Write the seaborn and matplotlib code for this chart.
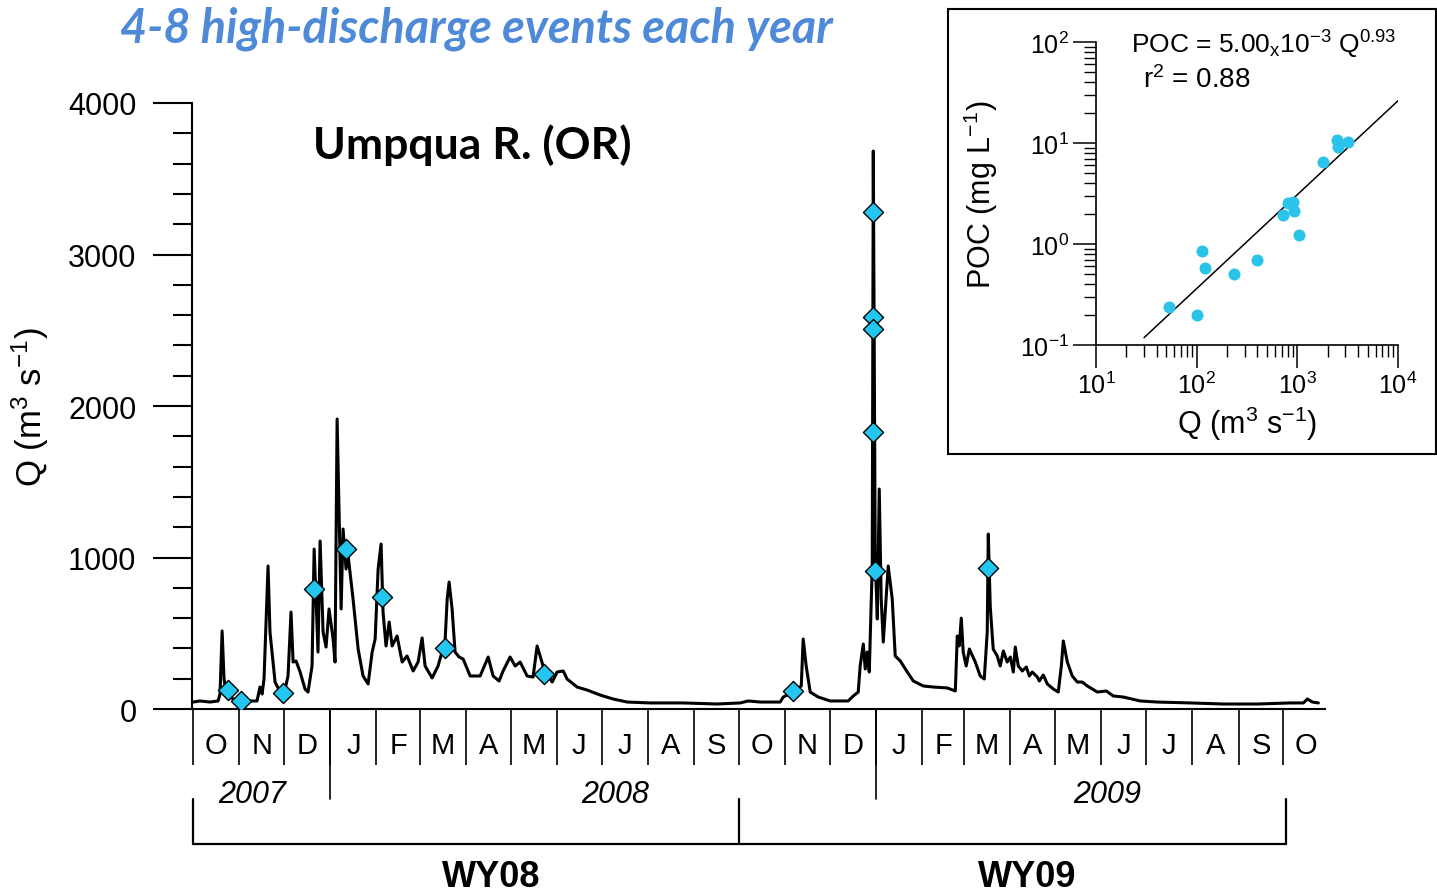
import numpy as np
import pandas as pd
import matplotlib
matplotlib.use("Agg")
import matplotlib.pyplot as plt
import seaborn as sns
from matplotlib.patches import Rectangle
from matplotlib.ticker import MultipleLocator, LogLocator, NullFormatter

# ---------------- data ----------------
start_date = "2007-10-01"   # day 0 of the hydrograph

flow_day = [0, 4.7, 11.4, 16.8, 18.1, 19.5, 20.8, 22.1, 26.8, 31.5,
            38.2, 42.9, 44.9, 46.3, 47.6, 50.3, 51.6, 55.0, 58.4, 61.0,
            63.7, 65.7, 67.1, 69.1, 71.8, 75.1, 77.1, 79.8, 81.2, 83.8,
            85.2, 87.2, 89.2, 91.2, 93.9, 95.2, 96.6, 99.3, 100.6, 102.6,
            104.0, 107.3, 110.7, 114.0, 117.4, 120.1, 122.1, 124.1, 126.1, 127.4,
            129.4, 131.5, 133.5, 136.8, 140.2, 143.5, 147.6, 150.9, 153.6, 155.6,
            160.3, 164.3, 169.0, 170.4, 171.7, 173.7, 175.7, 178.4, 181.1, 185.8,
            192.5, 197.9, 201.2, 205.2, 207.9, 212.6, 216.0, 219.3, 224.0, 228.0,
            230.7, 234.7, 240.8, 244.1, 248.2, 250.8, 257.5, 264.3, 273.0, 281.7,
            291.1, 306.5, 328.6, 351.4, 366.9, 372.2, 380.3, 393.7, 395.7, 402.4,
            407.8, 409.1, 411.1, 413.8, 419.2, 427.2, 439.3, 442.7, 446.0, 447.3,
            449.4, 450.7, 452.0, 453.4, 455.4, 456.1, 457.4, 458.8, 460.1, 461.4,
            462.8, 466.1, 468.8, 470.8, 474.2, 478.9, 482.9, 489.6, 496.3, 505.7,
            511.1, 512.4, 513.7, 515.1, 516.4, 518.4, 520.5, 524.5, 527.8, 530.5,
            532.5, 533.2, 534.5, 536.5, 539.2, 541.2, 543.3, 545.9, 548.0, 550.0,
            551.3, 553.3, 556.0, 558.7, 560.7, 562.7, 566.1, 567.4, 570.1, 572.8,
            576.8, 580.1, 582.2, 583.5, 586.2, 589.5, 592.9, 596.2, 599.6, 606.3,
            612.3, 617.0, 623.7, 635.1, 646.5, 668.7, 690.8, 713.6, 735.7, 744.5,
            747.1, 750.5, 754.5]

flow_q = [46, 53, 46, 53, 99, 515, 198, 112, 66, 46,
          53, 53, 145, 99, 198, 944, 508, 178, 112, 99,
          218, 640, 310, 317, 244, 132, 112, 284, 1056, 376,
          1109, 508, 409, 660, 462, 310, 1914, 660, 1188, 924,
          1010, 726, 396, 218, 165, 376, 462, 924, 1089, 640,
          416, 574, 416, 482, 310, 350, 251, 310, 469, 284,
          205, 284, 449, 726, 838, 660, 376, 343, 330, 218,
          218, 343, 218, 185, 251, 343, 284, 310, 218, 211,
          416, 284, 178, 244, 251, 198, 145, 125, 92, 66,
          46, 40, 40, 33, 40, 53, 46, 46, 79, 112,
          152, 462, 284, 112, 79, 53, 53, 86, 112, 284,
          429, 264, 376, 244, 944, 3683, 990, 594, 1452, 726,
          442, 944, 726, 350, 317, 244, 185, 152, 145, 139,
          119, 482, 416, 600, 376, 284, 396, 310, 218, 198,
          508, 1155, 680, 396, 350, 284, 383, 310, 343, 244,
          409, 284, 251, 277, 218, 244, 211, 185, 224, 165,
          132, 112, 284, 449, 310, 218, 178, 178, 152, 112,
          119, 86, 79, 53, 46, 40, 33, 33, 40, 40,
          66, 46, 40]

sample_day = [23.5, 32.2, 60.4, 81.2, 102.6, 126.8, 169.0, 235.4,
              402.4, 456.1, 456.1, 456.1, 456.1, 457.4, 533.2]
sample_q = [125, 53, 106, 792, 1056, 739, 403, 231,
            119, 3280, 2587, 2508, 1828, 911, 931]

inset_q = [53, 101, 113, 121, 234, 397, 720, 807, 904, 925, 1037, 1795, 2472, 2530, 3177]
inset_poc = [0.24, 0.20, 0.85, 0.58, 0.51, 0.70, 1.92, 2.55, 2.58, 2.10, 1.22, 6.45, 10.7, 9.2, 10.2]

fit_coef = 5.00e-3
fit_exp = 0.93
fit_r2 = 0.88
fit_q_range = [30, 10000]

month_letters = ["O", "N", "D", "J", "F", "M", "A", "M", "J", "J", "A", "S"] * 2 + ["O"]
year_labels = ["2007", "2008", "2009"]
year_label_day = [40, 283, 613]
wy_labels = ["WY08", "WY09"]
wy_label_day = [200, 559]
title_text = "4-8 high-discharge events each year"
site_text = "Umpqua R. (OR)"

# ---------------- style ----------------
sns.set_style("ticks")
plt.rcParams["font.family"] = ["Liberation Sans", "DejaVu Sans"]
plt.rcParams["mathtext.fontset"] = "custom"
plt.rcParams["mathtext.rm"] = "Liberation Sans"
plt.rcParams["mathtext.it"] = "Liberation Sans:italic"
plt.rcParams["mathtext.bf"] = "Liberation Sans:bold"
for k in ["text.color", "axes.labelcolor", "xtick.color", "ytick.color", "axes.edgecolor"]:
    plt.rcParams[k] = "black"

DIAMOND = "#22c6ef"
DOT = "#2cc3ea"
TITLE_BLUE = "#4f8ad8"

fig = plt.figure(figsize=(14.37, 8.95), dpi=100)
fig.patch.set_facecolor("white")

# ---------------- main hydrograph ----------------
ax = fig.add_axes([0.1336, 0.2067, 0.7885, 0.6771], zorder=0)
df = pd.DataFrame({"day": flow_day, "Q": flow_q})
sns.lineplot(data=df, x="day", y="Q", ax=ax, color="black", linewidth=2.2,
             estimator=None, sort=False)
sdf = pd.DataFrame({"day": sample_day, "Q": sample_q})
sns.scatterplot(data=sdf, x="day", y="Q", ax=ax, marker="D", s=105, color=DIAMOND,
                edgecolor="black", linewidth=1.0, zorder=4)

ax.set_xlim(-0.7, 759)
ax.set_ylim(0, 4000)
for s in ["top", "right"]:
    ax.spines[s].set_visible(False)
for s in ["left", "bottom"]:
    ax.spines[s].set_linewidth(1.5)

ax.yaxis.set_major_locator(MultipleLocator(1000))
ax.yaxis.set_minor_locator(MultipleLocator(200))
ax.tick_params(axis="y", which="major", length=28, width=1.5, labelsize=22, pad=12)
ax.tick_params(axis="y", which="minor", length=14, width=1.5)
ax.set_ylabel(r"Q (m$^3$ s$^{-1}$)", fontsize=25, labelpad=12)
ax.set_xlabel("")

t0 = pd.Timestamp(start_date)
month_starts = pd.date_range(start_date, "2009-11-01", freq="MS")
ms_days = np.array([(d - t0).days for d in month_starts], dtype=float)
tick_days = ms_days[:25]
label_days = (ms_days[:-1] + ms_days[1:]) / 2.0
ax.set_xticks(tick_days)
ax.set_xticklabels([])
ax.set_xticks(label_days, minor=True)
ax.set_xticklabels(month_letters, minor=True)
ax.tick_params(axis="x", which="major", length=40, width=1.2, direction="out")
ax.tick_params(axis="x", which="minor", length=0, pad=16, labelsize=21)

xt = ax.get_xaxis_transform()
jan_days = [(pd.Timestamp(y) - t0).days for y in ["2008-01-01", "2009-01-01"]]
for d in jan_days:
    ax.plot([d, d], [0, -0.1485], transform=xt, color="black", lw=1.2, clip_on=False)
for lab, d in zip(year_labels, year_label_day):
    ax.text(d, -0.140, lab, transform=xt, ha="center", va="center",
            fontsize=22, fontstyle="italic")

wy_bounds = [(pd.Timestamp(y) - t0).days for y in ["2007-10-01", "2008-10-01", "2009-10-03"]]
ax.plot([wy_bounds[0], wy_bounds[-1]], [-0.2228, -0.2228], transform=xt,
        color="black", lw=1.6, clip_on=False)
for d in wy_bounds:
    ax.plot([d, d], [-0.1485, -0.2228], transform=xt, color="black", lw=1.6, clip_on=False)
for lab, d in zip(wy_labels, wy_label_day):
    ax.text(d, -0.277, lab, transform=xt, ha="center", va="center",
            fontsize=26, fontweight="bold")

# titles
fig.text(0.0835, 0.968, title_text, fontsize=33.7, fontweight="bold", fontstyle="italic",
         color=TITLE_BLUE, family=["Lato", "DejaVu Sans"], ha="left", va="center")
fig.text(0.2178, 0.838, site_text, fontsize=32, fontweight="bold",
         family=["Lato", "DejaVu Sans"], ha="left", va="center")

# ---------------- inset ----------------
box = Rectangle((0.6597, 0.4916), 0.3393, 0.4972, transform=fig.transFigure,
                facecolor="white", edgecolor="black", linewidth=1.5, zorder=1)
fig.add_artist(box)

ax2 = fig.add_axes([0.7627, 0.6134, 0.2102, 0.3385], zorder=2)
ax2.patch.set_alpha(0)
ax2.set_xscale("log")
ax2.set_yscale("log")
idf = pd.DataFrame({"Q": inset_q, "POC": inset_poc})
sns.scatterplot(data=idf, x="Q", y="POC", ax=ax2, color=DOT, s=75, linewidth=0, zorder=3)
fq = np.array(fit_q_range, dtype=float)
fdf = pd.DataFrame({"Q": fq, "POC": fit_coef * fq ** fit_exp})
sns.lineplot(data=fdf, x="Q", y="POC", ax=ax2, color="black", linewidth=1.1,
             estimator=None, sort=False)
ax2.set_xlim(10, 1e4)
ax2.set_ylim(0.1, 100)
for s in ["top", "right"]:
    ax2.spines[s].set_visible(False)
for s in ["left", "bottom"]:
    ax2.spines[s].set_linewidth(1.2)
for a in (ax2.xaxis, ax2.yaxis):
    a.set_major_locator(LogLocator(base=10, numticks=10))
    a.set_minor_locator(LogLocator(base=10, subs=np.arange(2, 10), numticks=20))
    a.set_minor_formatter(NullFormatter())
ax2.tick_params(which="major", length=16.5, width=1.1, labelsize=18, pad=3)
ax2.tick_params(which="minor", length=8.5, width=1.0)
ax2.set_xlabel(r"Q (m$^3$ s$^{-1}$)", fontsize=22, labelpad=4)
ax2.set_ylabel(r"POC (mg L$^{-1}$)", fontsize=22, labelpad=14)

exp_c = int(np.floor(np.log10(fit_coef)))
mant = fit_coef / 10 ** exp_c
ax2.text(0.116, 0.993, r"POC = %.2f$_{\mathregular{x}}$10$^{%d}$ Q$^{%.2f}$" % (mant, exp_c, fit_exp),
         transform=ax2.transAxes, fontsize=19, ha="left", va="center")
ax2.text(0.156, 0.878, r"r$^2$ = %.2f" % fit_r2, transform=ax2.transAxes,
         fontsize=20, ha="left", va="center")

fig.savefig("out.png", dpi=100, facecolor="white")
